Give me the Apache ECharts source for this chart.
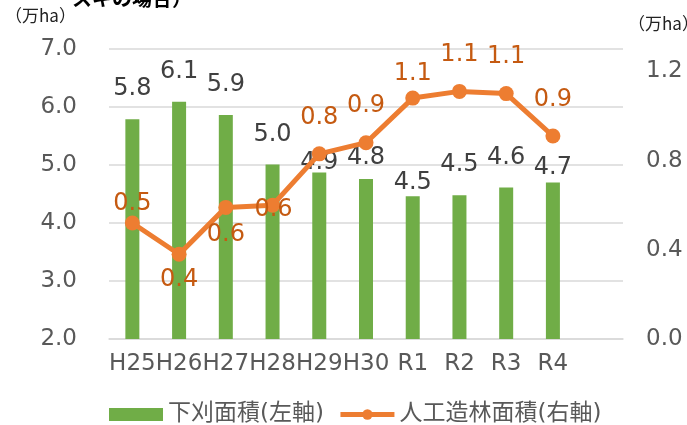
<!DOCTYPE html>
<html lang="ja">
<head>
<meta charset="UTF-8">
<title>下刈面積と人工造林面積</title>
<style>
  html, body { margin: 0; padding: 0; background: #fff; }
  #chart { width: 687px; height: 425px; }
</style>
</head>
<body>
<div id="chart"></div>
<script src="https://cdn.jsdelivr.net/npm/echarts@6/dist/echarts.min.js"></script>
<script>
// 年度（最後は空の項目）
var years = ['H25', 'H26', 'H27', 'H28', 'H29', 'H30', 'R1', 'R2', 'R3', 'R4', ''];
// 下刈面積（万ha, 左軸）
var weeding = [5.79, 6.09, 5.86, 5.01, 4.87, 4.76, 4.46, 4.48, 4.61, 4.70];
// 人工造林面積（万ha, 右軸）
var planted = [0.52, 0.38, 0.59, 0.60, 0.83, 0.88, 1.08, 1.11, 1.10, 0.91];

var font = '"DejaVu Sans", "Noto Sans CJK JP", sans-serif';
var grey = '#595959';

// ラベル位置の個別調整（Excelの配置に合わせる）
var barLabelDist = { 4: -2, 5: 9, 6: 2, 9: 3 };
var lineLabelCfg = {
  0: { distance: 0 },
  1: { position: 'bottom', distance: 6 },
  2: { position: 'bottom', distance: 8 },
  3: { position: 'inside', offset: [1, 5] },
  6: { distance: 5 }
};

var barData = weeding.map(function (v, i) {
  if (barLabelDist[i] === undefined) return v;
  return { value: v, label: { distance: barLabelDist[i] } };
});
var lineData = planted.map(function (v, i) {
  if (!lineLabelCfg[i]) return v;
  return { value: v, label: lineLabelCfg[i] };
});

var chart = echarts.init(document.getElementById('chart'));
var option = {
  animation: false,
  textStyle: { fontFamily: font },
  grid: { left: 109, right: 64, top: 49, bottom: 86 },
  graphic: [
    { type: 'text', left: 72, top: -12,
      style: { text: 'スギの場合）', font: 'bold 20px "Noto Sans CJK JP"', fill: '#000' } },
    { type: 'text', left: 5, top: 7,
      style: { text: '（万ha）', font: '17px "Noto Sans CJK JP"', fill: '#222' } },
    { type: 'text', left: 628, top: 15,
      style: { text: '（万ha）', font: '17px "Noto Sans CJK JP"', fill: '#222' } }
  ],
  legend: {
    left: 104, top: 398,
    itemWidth: 54, itemHeight: 13, itemGap: 14,
    textStyle: { fontSize: 23, color: grey, fontFamily: font },
    data: [
      { name: '下刈面積(左軸)', icon: 'rect' },
      { name: '人工造林面積(右軸)', lineStyle: { width: 5 } }
    ]
  },
  xAxis: {
    type: 'category',
    data: years,
    axisLine: { lineStyle: { color: '#d9d9d9', width: 1.5 } },
    axisTick: { show: false },
    axisLabel: { fontSize: 23, color: grey, margin: 14, interval: 0 }
  },
  yAxis: [
    {
      type: 'value', min: 2, max: 7, interval: 1,
      axisLine: { show: false }, axisTick: { show: false },
      splitLine: { lineStyle: { color: '#d9d9d9', width: 1.5 } },
      axisLabel: { fontSize: 23, color: grey, margin: 32,
        formatter: function (v) { return v.toFixed(1); } }
    },
    {
      type: 'value', min: 0, max: 1.3, interval: 0.4,
      axisLine: { show: false }, axisTick: { show: false },
      splitLine: { show: false },
      axisLabel: { fontSize: 23, color: grey, margin: 23, showMaxLabel: false,
        formatter: function (v) { return v.toFixed(1); } }
    }
  ],
  series: [
    {
      name: '下刈面積(左軸)',
      type: 'bar',
      yAxisIndex: 0,
      barWidth: 14,
      itemStyle: { color: '#70AD47' },
      label: {
        show: true, position: 'top', distance: 18,
        fontSize: 24, color: '#404040',
        formatter: function (p) { return p.value.toFixed(1); }
      },
      data: barData
    },
    {
      name: '人工造林面積(右軸)',
      type: 'line',
      yAxisIndex: 1,
      symbol: 'circle',
      symbolSize: 15,
      lineStyle: { color: '#ED7D31', width: 5 },
      itemStyle: { color: '#ED7D31' },
      label: {
        show: true, position: 'top', distance: 17,
        fontSize: 24, color: '#C55A11',
        formatter: function (p) { return p.value.toFixed(1); }
      },
      data: lineData
    }
  ]
};
chart.setOption(option);
</script>
</body>
</html>
